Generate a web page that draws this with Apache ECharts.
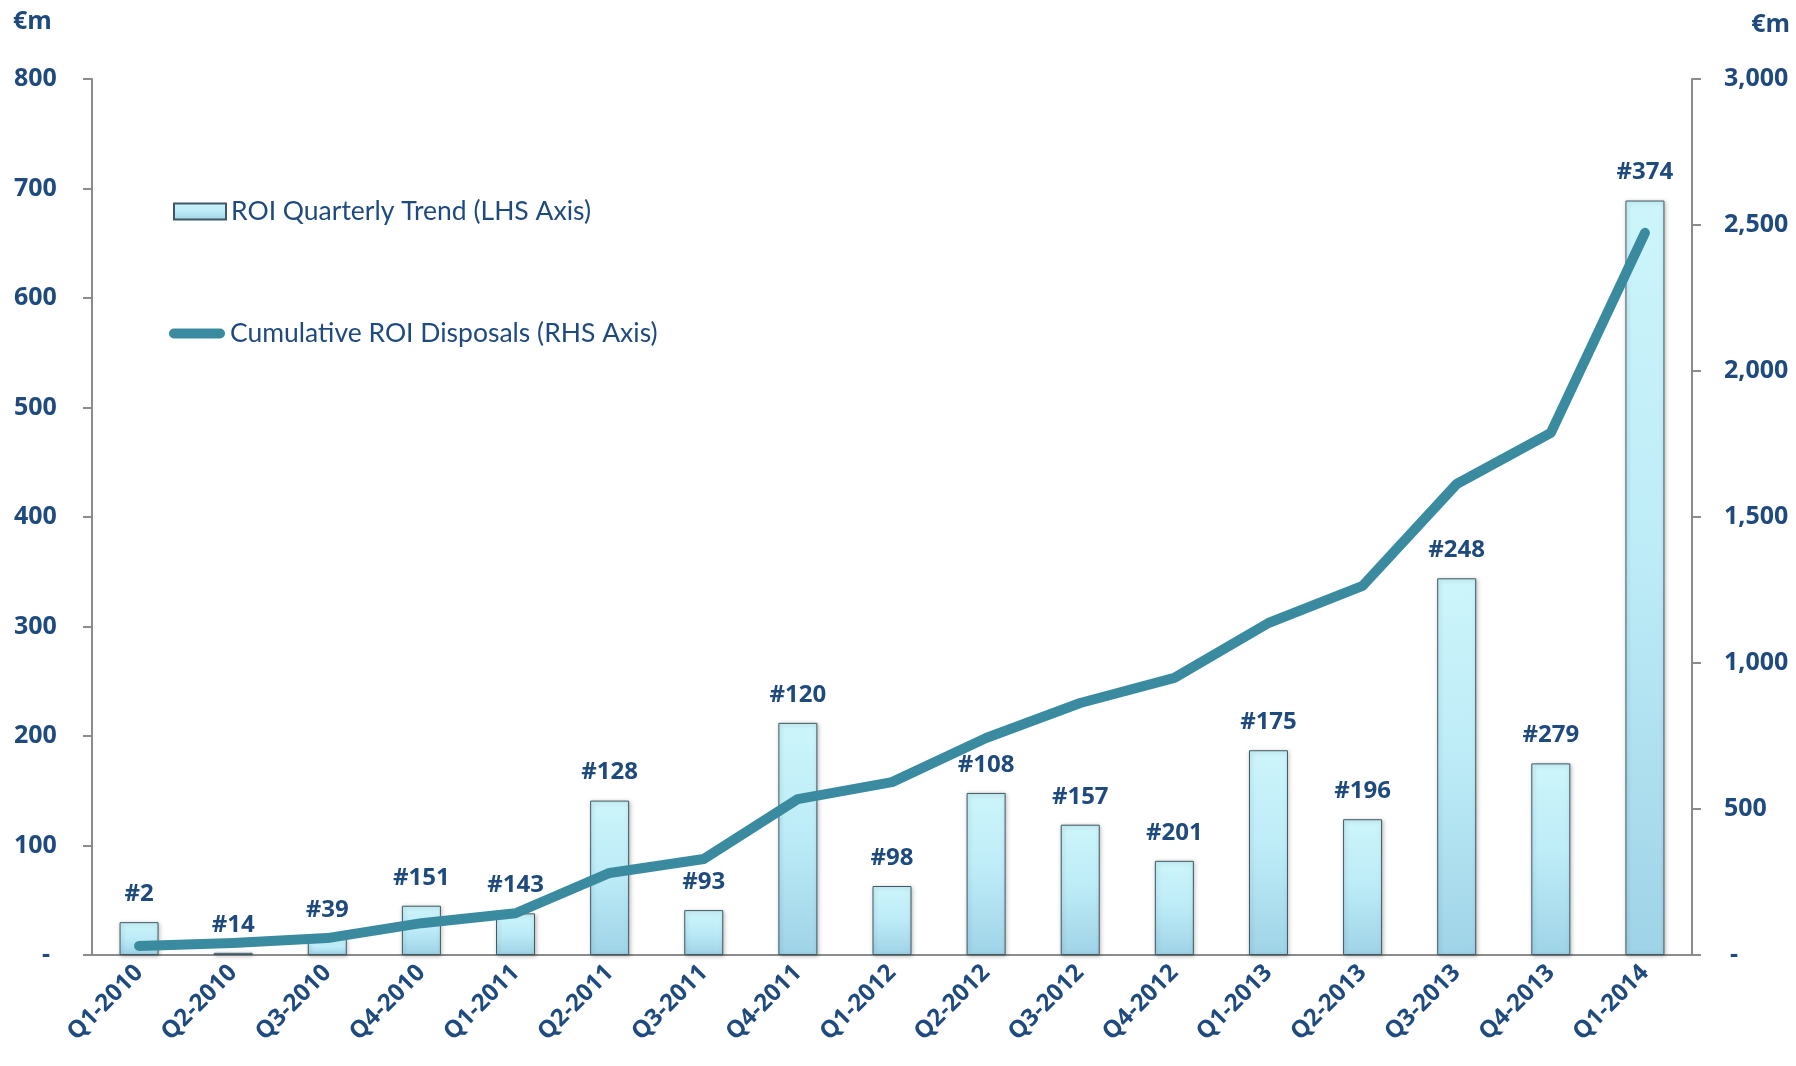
<!DOCTYPE html>
<html>
<head>
<meta charset="utf-8">
<title>ROI Quarterly Trend</title>
<script src="https://cdn.jsdelivr.net/npm/echarts@6/dist/echarts.min.js"></script>
<style>
html, body { margin: 0; padding: 0; background: #fff; }
#chart { width: 1796px; height: 1066px; }
</style>
</head>
<body>
<div id="chart"></div>
<script>
// quarters on the x axis
const quarters = ['Q1-2010', 'Q2-2010', 'Q3-2010', 'Q4-2010', 'Q1-2011', 'Q2-2011', 'Q3-2011', 'Q4-2011',
    'Q1-2012', 'Q2-2012', 'Q3-2012', 'Q4-2012', 'Q1-2013', 'Q2-2013', 'Q3-2013', 'Q4-2013', 'Q1-2014'];
// quarterly ROI, €m (left axis)
const quarterly = [30, 2, 15, 45, 38, 141, 41, 212, 63, 148, 119, 86, 187, 124, 344, 175, 689];
// cumulative disposals, €m (right axis)
const cumulative = [31, 41, 58, 109, 143, 281, 329, 534, 592, 743, 863, 949, 1137, 1264, 1613, 1788, 2473];
// count labels over the bars
const counts = ['#2', '#14', '#39', '#151', '#143', '#128', '#93', '#120', '#98', '#108', '#157', '#201',
    '#175', '#196', '#248', '#279', '#374'];

const navy = '#1F4A7E';
const teal = '#3A8B9F';
const bold = '"Open Sans", Lato, sans-serif';
const plain = 'Lato, "Open Sans", sans-serif';

const barFill = new echarts.graphic.LinearGradient(0, 0, 0, 1, [
    { offset: 0, color: '#CDF5FB' },
    { offset: 0.5, color: '#BCEBF7' },
    { offset: 1, color: '#9FD3E7' }
]);

const chart = echarts.init(document.getElementById('chart'));

const option = {
    animation: false,
    backgroundColor: '#fff',
    grid: { left: 92, right: 104, top: 79, bottom: 111 },
    legend: [
        {
            data: [{ name: 'ROI Quarterly Trend (LHS Axis)', icon: 'rect' }],
            left: 168,
            top: 193,
            itemWidth: 52,
            itemHeight: 16,
            textStyle: { color: navy, fontSize: 26.5, fontFamily: plain }
        },
        {
            data: [{ name: 'Cumulative ROI Disposals (RHS Axis)', icon: 'path://M5,0 L51,0 A5,5 0 0 1 51,10 L5,10 A5,5 0 0 1 5,0 Z' }],
            left: 164,
            top: 315,
            itemWidth: 56,
            itemHeight: 10,
            textStyle: { color: navy, fontSize: 26.5, fontFamily: plain }
        }
    ],
    graphic: [
        { type: 'text', left: 13, top: 9, style: { text: '€m', fill: navy, font: 'bold 25px ' + bold } },
        { type: 'text', right: 6, top: 12, style: { text: '€m', fill: navy, font: 'bold 25px ' + bold } }
    ],
    xAxis: {
        type: 'category',
        data: quarters,
        axisLine: { lineStyle: { color: '#8C8C8C', width: 2 } },
        axisTick: { length: 9, lineStyle: { color: '#8C8C8C', width: 2 } },
        axisLabel: {
            rotate: 45,
            interval: 0,
            margin: 14,
            color: navy,
            fontSize: 24,
            fontWeight: 'bold',
            fontFamily: bold
        }
    },
    yAxis: [
        {
            type: 'value',
            min: 0,
            max: 800,
            interval: 100,
            splitLine: { show: false },
            axisLine: { show: true, lineStyle: { color: '#8C8C8C', width: 2 } },
            axisTick: { show: true, length: 9, lineStyle: { color: '#8C8C8C', width: 2 } },
            axisLabel: {
                align: 'left',
                margin: 78,
                color: navy,
                fontSize: 25,
                fontWeight: 'bold',
                fontFamily: bold,
                formatter: (v) => (v === 0 ? '{d|-}' : v),
                rich: { d: { padding: [0, 0, 0, 28], color: navy, fontSize: 25, fontWeight: 'bold', fontFamily: bold } }
            }
        },
        {
            type: 'value',
            min: 0,
            max: 3000,
            interval: 500,
            splitLine: { show: false },
            axisLine: { show: true, lineStyle: { color: '#8C8C8C', width: 2 } },
            axisTick: { show: true, length: 9, lineStyle: { color: '#8C8C8C', width: 2 } },
            axisLabel: {
                align: 'left',
                margin: 32,
                color: navy,
                fontSize: 25,
                fontWeight: 'bold',
                fontFamily: bold,
                formatter: (v) => (v === 0 ? '{d|-}' : echarts.format.addCommas(v)),
                rich: { d: { padding: [0, 0, 0, 6], color: navy, fontSize: 25, fontWeight: 'bold', fontFamily: bold } }
            }
        }
    ],
    series: [
        {
            name: 'ROI Quarterly Trend (LHS Axis)',
            type: 'bar',
            yAxisIndex: 0,
            data: quarterly,
            barWidth: 39,
            itemStyle: {
                color: barFill,
                borderColor: '#3E5963',
                borderWidth: 1,
                shadowColor: 'rgba(0,0,0,0.25)',
                shadowBlur: 4,
                shadowOffsetX: 1,
                shadowOffsetY: 1
            },
            label: {
                show: true,
                position: 'top',
                distance: 16,
                formatter: (p) => counts[p.dataIndex],
                color: navy,
                fontSize: 24,
                fontWeight: 'bold',
                fontFamily: bold
            },
            z: 2
        },
        {
            name: 'Cumulative ROI Disposals (RHS Axis)',
            type: 'line',
            yAxisIndex: 1,
            data: cumulative,
            symbol: 'none',
            lineStyle: { color: teal, width: 10, cap: 'round', join: 'round' },
            itemStyle: { color: teal },
            z: 3
        }
    ]
};

chart.setOption(option);
</script>
</body>
</html>
